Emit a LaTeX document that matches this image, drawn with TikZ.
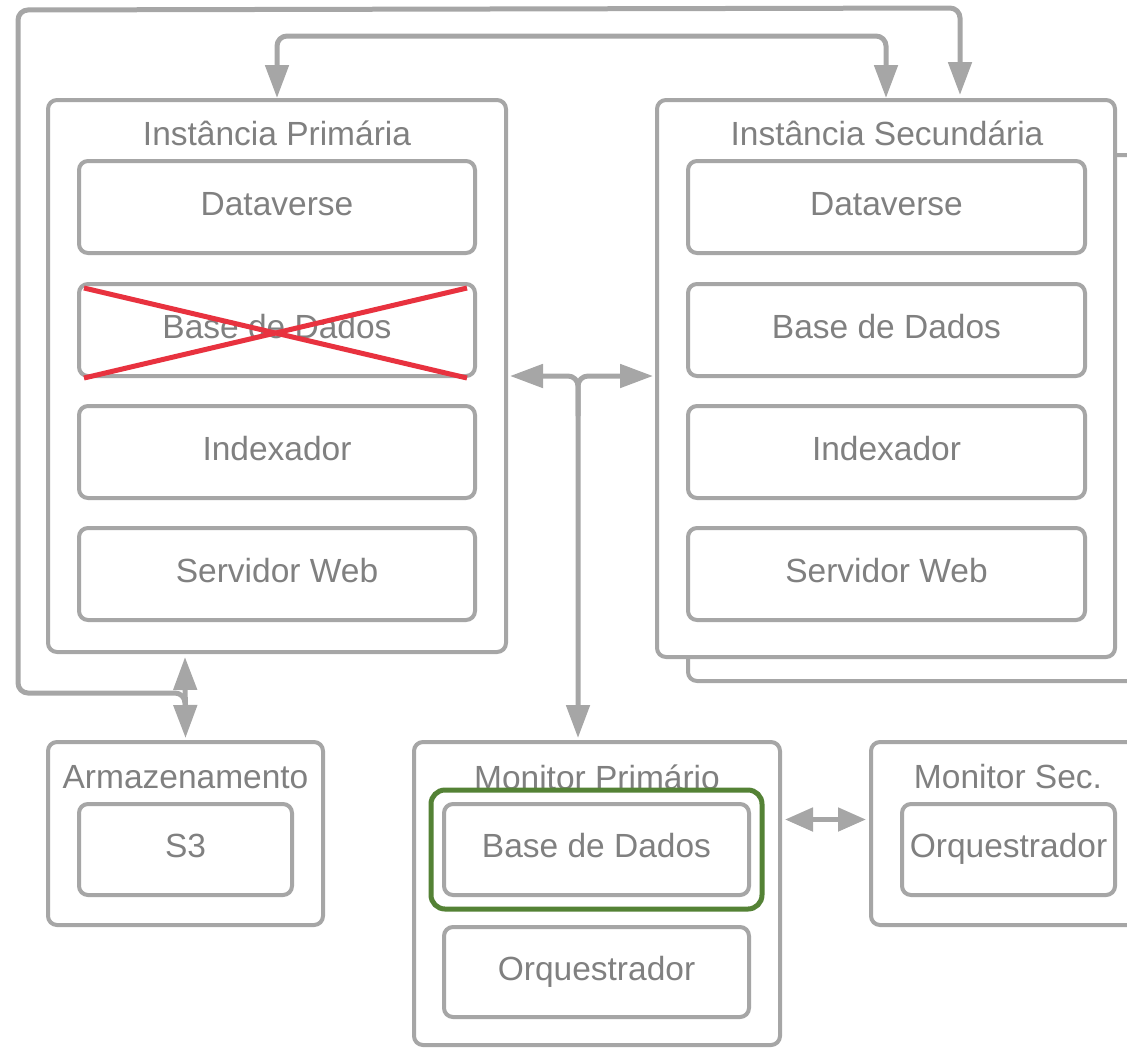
\documentclass[tikz,border=0pt]{standalone}
\usepackage{fontspec}
\setmainfont{Liberation Sans}
\usetikzlibrary{arrows.meta,calc}
\definecolor{lg}{HTML}{A6A6A6}
\definecolor{tg}{HTML}{808080}
\definecolor{xred}{HTML}{E8323F}
\definecolor{okgreen}{HTML}{548235}
\tikzset{
  box/.style={draw=lg, line width=4pt, rounded corners=9pt, fill=white, inner sep=0pt},
  inbox/.style={box, minimum width=396pt, minimum height=92pt, text=tg, font=\fontsize{33.5}{40}\selectfont, text height=24pt, text depth=8pt},
  smallbox/.style={box, minimum width=213pt, minimum height=91pt, text=tg, font=\fontsize{33.5}{40}\selectfont, text height=24pt, text depth=8pt},
  title/.style={text=tg, font=\fontsize{33.5}{40}\selectfont, inner sep=0pt},
  conn/.style={draw=lg, line width=5pt},
  mytip/.tip={Triangle[length=33pt, width=23pt]},
  mystip/.tip={Triangle[length=28pt, width=23pt]}
}
\begin{document}
\begin{tikzpicture}[x=1pt,y=-1pt]
\useasboundingbox (0,0) rectangle (1127,1047);
\clip (0,0) rectangle (1127,1047);

% secondary back (stacked) box
\node[box, minimum width=460pt, minimum height=526pt] (secback) at (918,418) {};

% outer containers
\node[box, minimum width=458pt, minimum height=552pt] (prim) at (277,376) {};
\node[box, minimum width=458pt, minimum height=557pt] (sec) at (886,378.5) {};
\node[box, minimum width=275pt, minimum height=183pt] (stor) at (185.5,833.5) {};
\node[box, minimum width=366pt, minimum height=303pt] (monp) at (597,893.5) {};
\node[box, minimum width=290pt, minimum height=183pt] (mons) at (1016,833.5) {};

% titles
\node[title] (tprim) at (277,133) {Instância Primária};
\node[title] (tsec) at (887,133) {Instância Secundária};
\node[title] (tstor) at (185.5,777) {Armazenamento};
\node[title] (tmonp) at (597,777) {Monitor Primário};
\node[title] (tmons) at (1008,777) {Monitor Sec.};

% primary inner
\node[inbox] (pdv) at (277,207) {Dataverse};
\node[inbox] (pdb) at (277,330) {Base de Dados};
\node[inbox] (pidx) at (277,452) {Indexador};
\node[inbox] (pweb) at (277,574) {Servidor Web};

% secondary inner
\node[inbox, minimum width=397pt] (sdv) at (886.5,207) {Dataverse};
\node[inbox, minimum width=397pt] (sdb) at (886.5,330) {Base de Dados};
\node[inbox, minimum width=397pt] (sidx) at (886.5,452) {Indexador};
\node[inbox, minimum width=397pt] (sweb) at (886.5,574) {Servidor Web};

% storage inner
\node[smallbox] (s3) at (185.5,849.5) {S3};

% monitor primary inner
\node[draw=okgreen, line width=5pt, rounded corners=14pt, minimum width=331pt, minimum height=119pt, inner sep=0pt] (green) at (596.5,849.5) {};
\node[smallbox, minimum width=305pt] (mdb) at (596.5,849.5) {Base de Dados};
\node[smallbox, minimum width=305pt, minimum height=90pt] (morq) at (596.5,972) {Orquestrador};

% monitor secondary inner
\node[smallbox] (sorq) at (1008.5,849.5) {Orquestrador};

% red cross
\draw[xred, line width=5pt] ($(pdb.north west)+(7,6)$) -- ($(pdb.south east)+(-10,0)$);
\draw[xred, line width=5pt] ($(pdb.south west)+(7,0)$) -- ($(pdb.north east)+(-10,6)$);

% connectors
\coordinate (jst) at (185,693);
\coordinate (jmid) at (578,376);
\draw[conn, {mytip}-{mytip}, rounded corners=10pt] (prim.north) -- ++(0,-62) -| (sec.north);
\draw[conn, -{mytip}, rounded corners=10pt] ($(jst)+(0,14)$) -- (jst) -- ++(-167,0) -- ++(0,-683) -- ($(sec.north)+(74,-90)$) -- ($(sec.north)+(74,-3)$);
\draw[conn, {mytip}-{mytip}] ($(prim.south)+(-92,3)$) -- ($(stor.north)+(0,-2)$);
\draw[conn, {mytip}-{mytip}, rounded corners=10pt] ($(prim.east)+(2,0)$) -- (jmid) -- ($(monp.north -| jmid)+(0,-2)$);
\draw[conn, {mytip}-, rounded corners=10pt] ($(sec.west |- jmid)+(-2,0)$) -- (jmid) -- ++(0,40);
\draw[conn, {mystip}-{mystip}] ($(mons.west)+(-3,-14)$) -- ($(mons.west -| monp.east)+(3,-14)$);
\end{tikzpicture}
\end{document}
